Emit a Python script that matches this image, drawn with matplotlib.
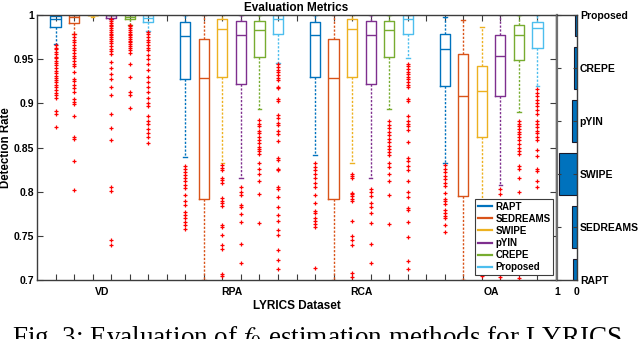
import matplotlib

matplotlib.use("Agg")
import matplotlib.pyplot as plt
from matplotlib.lines import Line2D

plt.rcParams["font.family"] = ["Liberation Sans", "DejaVu Sans"]
plt.rcParams["mathtext.fontset"] = "stix"

METHODS = ["RAPT", "SEDREAMS", "SWIPE", "pYIN", "CREPE", "Proposed"]
DATASETS = ["VD", "RPA", "RCA", "OA"]
COLORS = ["#0072BD", "#D95319", "#EDB120", "#7E2F8E", "#77AC30", "#4DBEEE"]

# box statistics, one row per dataset, one column per method
Q1 = [
    [0.986, 0.991, 0.9995, 0.997, 0.9955, 0.9925],
    [0.9275, 0.7917, 0.930, 0.9219, 0.9528, 0.9785],
    [0.930, 0.7917, 0.9294, 0.9219, 0.9528, 0.9785],
    [0.9196, 0.7955, 0.8622, 0.9087, 0.949, 0.9623],
]
MED = [
    [0.996, 0.998, 1.0, 0.9995, 0.998, 0.997],
    [0.976, 0.929, 0.984, 0.977, 0.983, 0.996],
    [0.977, 0.929, 0.9838, 0.977, 0.983, 0.996],
    [0.9615, 0.9087, 0.914, 0.9536, 0.9774, 0.985],
]
Q3 = [
    [0.999, 0.9995, 1.0, 1.0, 0.9995, 0.9995],
    [0.9917, 0.9728, 0.9955, 0.9936, 0.9936, 1.0],
    [0.9925, 0.9728, 0.9955, 0.9936, 0.9936, 1.0],
    [0.9785, 0.9558, 0.9423, 0.9774, 0.9887, 0.9925],
]
WLO = [
    [0.967, 0.978, 0.998, 0.996, 0.989, 0.982],
    [0.8396, 0.70, 0.832, 0.816, 0.8932, 0.946],
    [0.842, 0.70, 0.832, 0.816, 0.8932, 0.9517],
    [0.832, 0.70, 0.708, 0.8075, 0.8906, 0.9196],
]
WHI = [
    [1.0, 1.0, 1.0, 1.0, 1.0, 1.0],
    [1.0, 1.0, 1.0, 1.0, 1.0, 1.0],
    [1.0, 1.0, 1.0, 1.0, 1.0, 1.0],
    [0.998, 0.9943, 0.9864, 1.0, 1.0, 1.0],
]
FLIERS = [
    [
        [0.966, 0.963, 0.961, 0.958, 0.956, 0.953, 0.951, 0.948, 0.946, 0.943, 0.940, 0.937, 0.934,
         0.931, 0.929, 0.926, 0.924, 0.921, 0.918, 0.915, 0.912, 0.909, 0.906, 0.891, 0.888, 0.873],
        [0.978, 0.975, 0.972, 0.969, 0.966, 0.963, 0.960, 0.957, 0.954, 0.951, 0.948, 0.945, 0.942,
         0.935, 0.928, 0.925, 0.921, 0.917, 0.913, 0.905, 0.902, 0.899, 0.886, 0.862, 0.860, 0.835, 0.802],
        [],
        [0.995, 0.993, 0.991, 0.989, 0.987, 0.985, 0.983, 0.981, 0.979, 0.977, 0.975, 0.973, 0.971,
         0.968, 0.965, 0.962, 0.959, 0.956, 0.947, 0.940, 0.933, 0.928, 0.919, 0.910, 0.888, 0.872,
         0.858, 0.805, 0.801, 0.745, 0.740],
        [0.989, 0.987, 0.985, 0.983, 0.981, 0.979, 0.977, 0.975, 0.973, 0.971, 0.969, 0.967, 0.965,
         0.963, 0.960, 0.957, 0.944, 0.930, 0.913, 0.910, 0.895],
        [0.981, 0.978, 0.975, 0.972, 0.969, 0.966, 0.963, 0.960, 0.955, 0.950, 0.945, 0.938, 0.930,
         0.924, 0.918, 0.913, 0.906, 0.900, 0.897, 0.886, 0.880, 0.877, 0.871, 0.866, 0.862, 0.855],
    ],
    [
        [0.829, 0.826, 0.822, 0.819, 0.815, 0.812, 0.808, 0.804, 0.796, 0.790, 0.785, 0.777, 0.774,
         0.770, 0.766, 0.762, 0.758],
        [],
        [0.830, 0.827, 0.824, 0.815, 0.813, 0.810, 0.793, 0.790, 0.787, 0.784, 0.762, 0.760, 0.751,
         0.740, 0.735, 0.707, 0.705],
        [0.805, 0.800, 0.796, 0.785, 0.783, 0.775, 0.766, 0.741, 0.719],
        [0.881, 0.877, 0.874, 0.869, 0.866, 0.862, 0.858, 0.855, 0.851, 0.848, 0.846, 0.843, 0.833,
         0.826, 0.820, 0.812, 0.797, 0.765],
        [0.944, 0.941, 0.938, 0.935, 0.932, 0.929, 0.926, 0.919, 0.917, 0.905, 0.903, 0.887, 0.883,
         0.878, 0.875, 0.869, 0.865, 0.857, 0.838, 0.836, 0.826, 0.824, 0.805, 0.803, 0.794, 0.783,
         0.774, 0.767, 0.757, 0.751, 0.734, 0.723, 0.712],
    ],
    [
        [0.833, 0.828, 0.825, 0.820, 0.815, 0.810, 0.805, 0.796, 0.787, 0.778, 0.776, 0.770, 0.767,
         0.763, 0.760, 0.714],
        [],
        [0.820, 0.818, 0.815, 0.799, 0.797, 0.795, 0.792, 0.790, 0.767, 0.750, 0.745, 0.740, 0.708, 0.703],
        [0.803, 0.800, 0.795, 0.787, 0.783, 0.776, 0.765, 0.741, 0.719],
        [0.880, 0.876, 0.872, 0.868, 0.864, 0.860, 0.856, 0.852, 0.848, 0.845, 0.842, 0.832, 0.828,
         0.820, 0.812, 0.796, 0.763],
        [0.945, 0.942, 0.939, 0.936, 0.933, 0.930, 0.927, 0.924, 0.921, 0.918, 0.905, 0.903, 0.886,
         0.880, 0.877, 0.874, 0.870, 0.856, 0.838, 0.835, 0.829, 0.825, 0.812, 0.800, 0.794, 0.782,
         0.779, 0.766, 0.749, 0.721, 0.713],
    ],
    [
        [0.830, 0.826, 0.822, 0.818, 0.814, 0.810, 0.806, 0.799, 0.792, 0.789, 0.786, 0.779, 0.776,
         0.772, 0.770, 0.762, 0.754],
        [],
        [0.704],
        [0.803, 0.797, 0.790, 0.784, 0.776, 0.769, 0.760, 0.752, 0.740, 0.729, 0.716, 0.703],
        [0.880, 0.877, 0.874, 0.871, 0.868, 0.865, 0.862, 0.858, 0.854, 0.850, 0.846, 0.843, 0.829,
         0.826, 0.815, 0.800, 0.780, 0.760, 0.740, 0.702],
        [0.916, 0.912, 0.908, 0.904, 0.900, 0.897, 0.893, 0.888, 0.880, 0.877, 0.873, 0.869, 0.866,
         0.862, 0.858, 0.847, 0.840, 0.826, 0.823, 0.812, 0.805, 0.790, 0.770, 0.750, 0.730],
    ],
]

# share of best results per method (right panel)
SHARE = [0.19, 0.24, 0.92, 0.24, 0.13, 0.08]

YTICKS = [0.7, 0.75, 0.8, 0.85, 0.9, 0.95, 1.0]
YTICKLABELS = ["0.7", "0.75", "0.8", "0.85", "0.9", "0.95", "1"]

AX_COL = "#3c3c3c"

fig = plt.figure(figsize=(6.4, 3.39), dpi=100)
ax = fig.add_axes([37 / 640, 59 / 339, 519 / 640, 265 / 339])
ax2 = fig.add_axes([557 / 640, 59 / 339, 20 / 640, 265 / 339])

stats = []
positions = []
box_colors = []
for d in range(len(DATASETS)):
    for m in range(len(METHODS)):
        stats.append({
            "med": MED[d][m], "q1": Q1[d][m], "q3": Q3[d][m],
            "whislo": WLO[d][m], "whishi": WHI[d][m], "fliers": FLIERS[d][m],
        })
        positions.append(d * 7 + m + 1)
        box_colors.append(COLORS[m])

art = ax.bxp(
    stats, positions=positions, widths=0.55, capwidths=0.2,
    flierprops=dict(marker="+", markeredgecolor="red", markersize=3, markeredgewidth=0.9),
)
for i, c in enumerate(box_colors):
    art["boxes"][i].set(color=c, linewidth=1.0)
    art["medians"][i].set(color=c, linewidth=1.0)
    for j in (2 * i, 2 * i + 1):
        art["whiskers"][j].set(color=c, linewidth=1.0, linestyle=(0, (1.6, 1.2)))
        art["caps"][j].set(color=c, linewidth=1.0)

ax.set_xlim(0, 28)
ax.set_ylim(0.7, 1.0)
ax.set_xticks(range(1, 28))
ax.set_xticklabels([""] * 27)
ax.set_xticks([3.5, 10.5, 17.5, 24.5], minor=True)
ax.set_xticklabels(DATASETS, minor=True, fontsize=7.5, fontweight="bold")
ax.tick_params(axis="x", which="minor", length=0, pad=5)
ax.tick_params(axis="x", which="major", direction="in", length=4, top=True, color=AX_COL)
ax.set_yticks(YTICKS)
ax.set_yticklabels(YTICKLABELS, fontsize=7.5, fontweight="bold")
ax.tick_params(axis="y", direction="in", length=4, right=True, color=AX_COL, pad=2)
for s in ax.spines.values():
    s.set_color(AX_COL)
    s.set_linewidth(1.0)

ax.set_xlabel("LYRICS Dataset", fontsize=8.5, fontweight="bold", labelpad=2)
ax.set_ylabel("Detection Rate", fontsize=8.3, fontweight="bold", labelpad=1)
ax.set_title("Evaluation Metrics", fontsize=8.5, fontweight="bold", pad=3)

handles = [Line2D([0], [0], color=c, linewidth=1.6) for c in COLORS]
leg = ax.legend(handles, METHODS, loc="lower right", bbox_to_anchor=(0.995, 0.018),
                borderaxespad=0, fancybox=False, framealpha=1, edgecolor=AX_COL,
                prop=dict(size=7, weight="bold"), handlelength=1.5, handletextpad=0.3,
                labelspacing=0.22, borderpad=0.3)
leg.get_frame().set_linewidth(0.8)
leg.set_zorder(10)

# right panel
ypos = list(range(1, len(METHODS) + 1))
ax2.barh(ypos, SHARE, height=0.78, color="#0072BD", edgecolor="#1a1a2a", linewidth=0.8)
ax2.set_xlim(1, 0)
ax2.set_ylim(1, 6)
ax2.set_xticks([1, 0])
ax2.set_xticklabels(["1", "0"], fontsize=7.5, fontweight="bold")
ax2.tick_params(axis="x", length=0, pad=5)
ax2.set_yticks(ypos)
ax2.set_yticklabels(METHODS, fontsize=7.5, fontweight="bold")
ax2.yaxis.tick_right()
ax2.tick_params(axis="y", direction="in", length=3, left=True, right=True, color=AX_COL, pad=2)
for s in ax2.spines.values():
    s.set_color(AX_COL)
    s.set_linewidth(1.0)
ax2.spines["left"].set_linewidth(1.6)
ax2.spines["left"].set_color("#707070")

fig.text(12 / 640, -6 / 339, "Fig. 3: Evaluation of $f_0$ estimation methods for LYRICS",
         family="Liberation Serif", fontsize=19.5, va="baseline", ha="left")

fig.savefig("out.png", dpi=100)
